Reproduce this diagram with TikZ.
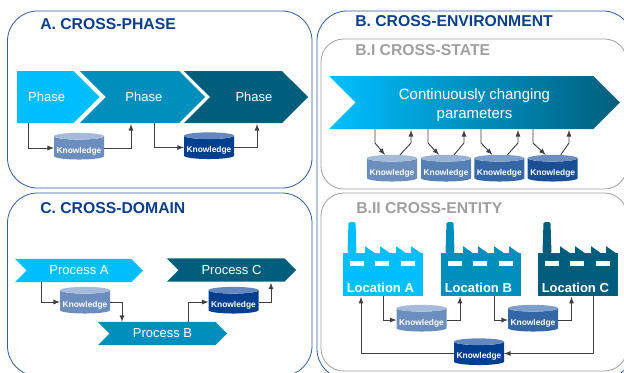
\documentclass[tikz,border=0pt]{standalone}
\usepackage{fontspec}
\setmainfont{Liberation Sans}
\usetikzlibrary{positioning,arrows,shapes.geometric,shapes.symbols}

\definecolor{bright}{HTML}{00BFFF}
\definecolor{middle}{HTML}{008FBD}
\definecolor{deep}{HTML}{005E7C}
\definecolor{titleblue}{HTML}{0B3F8C}
\definecolor{frameblue}{HTML}{2F5B9F}
\definecolor{framegray}{HTML}{A0A0A0}
\definecolor{arrowgray}{HTML}{404040}
\definecolor{bodyA}{HTML}{6C8EBF}
\definecolor{topA}{HTML}{A5BBD9}
\definecolor{bodyB}{HTML}{5680B5}
\definecolor{topB}{HTML}{99B2D4}
\definecolor{bodyC}{HTML}{3566A5}
\definecolor{topC}{HTML}{7F9FCB}
\definecolor{bodyD}{HTML}{1A4F96}
\definecolor{topD}{HTML}{6C8EBF}
\definecolor{bodyE}{HTML}{003E8F}
\definecolor{topE}{HTML}{6487BE}

\tikzset{
  panel/.style={draw=frameblue, line width=0.6pt, rounded corners=22.5pt},
  subpanel/.style={draw=framegray, line width=0.6pt, rounded corners=17pt},
  heading/.style={anchor=west, inner sep=0pt, font=\bfseries\fontsize{11.8}{14}\selectfont, text=titleblue},
  subheading/.style={heading, text=framegray},
  arrowbox/.style={signal, signal to=east, signal from=west, signal pointer angle=90, draw=none, inner sep=0pt, outer sep=0pt, text=white, align=center, minimum height=#1},
  arrowbox/.default=17.5pt,
  know/.style n args={2}{cylinder, shape border rotate=90, aspect=0.15, cylinder uses custom fill, cylinder body fill=#1, cylinder end fill=#2, minimum width=37.5pt, minimum height=20pt, inner sep=0pt, outer sep=0pt, text=white, text height=8pt, text depth=0pt, font=\bfseries\fontsize{6.3}{7}\selectfont},
  link/.style={draw=arrowgray, line width=0.7pt, -latex},
  plant/.style={minimum width=60pt, minimum height=32pt, inner sep=0pt, outer sep=0pt},
  plantname/.style={inner sep=0pt, xshift=-2pt, text=white, font=\bfseries\fontsize{9.75}{11}\selectfont},
}

% chimney, saw teeth and windows above a plant body
\newcommand{\plantroof}[2]{
  \fill[#2, rounded corners=1pt] ([shift={(4.5,0)}]#1.north west) -- ++(1,-31) -- ++(7,0) -- ++(1,31) -- cycle;
  \foreach \px in {22,37,53,68} {
    \fill[#2] ([shift={(\px,0)}]#1.north west) -- ++(0,-7) -- ++(10,7) -- cycle;
  }
  \foreach \wx in {7,32,58} {
    \fill[white] ([shift={(\wx,8)}]#1.north west) rectangle ++(14,5);
  }
}

\begin{document}
\begin{tikzpicture}[x=0.75pt,y=-0.75pt]
\clip[use as bounding box] (0,0) rectangle (624,372);
\fill[white] (0,0) rectangle (624,372);

\draw[panel] (7.5,11) rectangle (312,188);
\draw[panel] (7.5,193) rectangle (312,376);
\draw[panel] (317,11) rectangle (633,379);
\draw[subpanel] (321,39) rectangle (627,189);
\draw[subpanel] (321,193) rectangle (627,371);

\node[heading] (titleA) at (40,24) {A. CROSS-PHASE};
\node[heading] (titleC) at (40,208) {C. CROSS-DOMAIN};
\node[heading] (titleB) at (355,21) {B. CROSS-ENVIRONMENT};
\node[subheading] (titleBI) at (355,50) {B.I CROSS-STATE};
\node[subheading] (titleBII) at (356,208) {B.II CROSS-ENTITY};

% A
\node[arrowbox=39pt, signal from=nowhere, fill=bright, minimum width=62pt, anchor=west, font=\fontsize{9.75}{11}\selectfont] (phase1) at (17,97) {\hspace*{2pt}Phase};
\node[arrowbox=39pt, fill=middle, minimum width=94pt, font=\fontsize{9.75}{11}\selectfont] (phase2) at (142.5,97) {\hspace*{2pt}Phase};
\node[arrowbox=39pt, fill=deep, minimum width=93pt, font=\fontsize{9.75}{11}\selectfont] (phase3) at (246,97) {\hspace*{12pt}Phase};
\node[know={bodyA}{topA}] (knowA1) at (79,148) {Knowledge};
\node[know={bodyE}{topE}] (knowA2) at (209,147.5) {Knowledge};
\draw[link] ([shift={(-16.5,0)}]phase1.south) |- (knowA1.west);
\draw[link] (knowA1.east) -| ([shift={(-11.5,1)}]phase2.south);
\draw[link] ([shift={(11.5,0)}]phase2.south) |- (knowA2.west);
\draw[link] (knowA2.east) -| ([shift={(11,1)}]phase3.south);

% C
\node[arrowbox, fill=bright, minimum width=96pt, font=\fontsize{9.75}{12}\selectfont] (procA) at (79,270.5) {Process A};
\node[arrowbox, fill=deep, minimum width=97pt, font=\fontsize{9.75}{12}\selectfont] (procC) at (231.5,270) {Process C};
\node[arrowbox, fill=middle, minimum width=97pt, font=\fontsize{9.75}{12}\selectfont] (procB) at (162.5,333.5) {Process B};
\node[know={bodyA}{topA}] (knowC1) at (85,302) {Knowledge};
\node[know={bodyE}{topE}] (knowC2) at (233.5,302) {Knowledge};
\draw[link] ([shift={(-38,0)}]procA.south) |- (knowC1.west);
\draw[link] (knowC1.east) -| ([shift={(-40.5,0)}]procB.north);
\draw[link] ([shift={(25.5,0)}]procB.north) |- (knowC2.west);
\draw[link] (knowC2.east) -| ([shift={(39.5,1)}]procC.south);

% B.I
\node[arrowbox=39.75pt, left color=bright, right color=deep, minimum width=218pt, font=\fontsize{11.2}{14}\selectfont] (states) at (474.5,102.5) {\rule{0pt}{12.5pt}Continuously changing\\parameters};
\node[know={bodyA}{topA}] (state1) at (392,170) {Knowledge};
\node[know={bodyB}{topB}, right=3pt of state1] (state2) {Knowledge};
\node[know={bodyC}{topC}, right=2.5pt of state2] (state3) {Knowledge};
\node[know={bodyD}{topD}, right=2.5pt of state3] (state4) {Knowledge};
\foreach \i/\inx/\outx in {1/-99.5/-63.5, 2/-46.5/-10.5, 3/6.5/43.5, 4/58.5/94.5} {
  \coordinate (bendin\i) at ([shift={(\inx,14)}]states.south);
  \coordinate (bendout\i) at ([shift={(\outx,14)}]states.south);
  \draw[link] ([shift={(\inx,0)}]states.south) -- (bendin\i) -- ([shift={(-7,0)}]state\i.north);
  \draw[link] ([shift={(8,0)}]state\i.north) -- (bendout\i) -- ([shift={(\outx,1)}]states.south);
}

% B.II
\node[plant, fill=bright] (locA) at (383,274.5) {};
\node[plant, fill=middle] (locB) at (481,274.5) {};
\node[plant, fill=deep] (locC) at (578,274.5) {};
\plantroof{locA}{bright}
\plantroof{locB}{middle}
\plantroof{locC}{deep}
\node[plantname, above=2.5pt of locA.south] (nameA) {Location A};
\node[plantname, above=2.5pt of locB.south] (nameB) {Location B};
\node[plantname, above=2.5pt of locC.south] (nameC) {Location C};
\node[know={bodyA}{topA}] (knowL1) at (421.5,320) {Knowledge};
\node[know={bodyC}{topC}] (knowL2) at (533,320) {Knowledge};
\node[know={bodyE}{topE}] (knowL3) at (479,353.5) {Knowledge};
\draw[link] ([shift={(0,0)}]locA.south) |- (knowL1.west);
\draw[link] (knowL1.east) -| ([shift={(-21,1)}]locB.south);
\draw[link] ([shift={(13,0)}]locB.south) |- (knowL2.west);
\draw[link] (knowL2.east) -| ([shift={(-6.5,1)}]locC.south);
\draw[link] ([shift={(15,0)}]locC.south) |- (knowL3.east);
\draw[link] (knowL3.west) -| ([shift={(-22,1)}]locA.south);
\end{tikzpicture}
\end{document}
